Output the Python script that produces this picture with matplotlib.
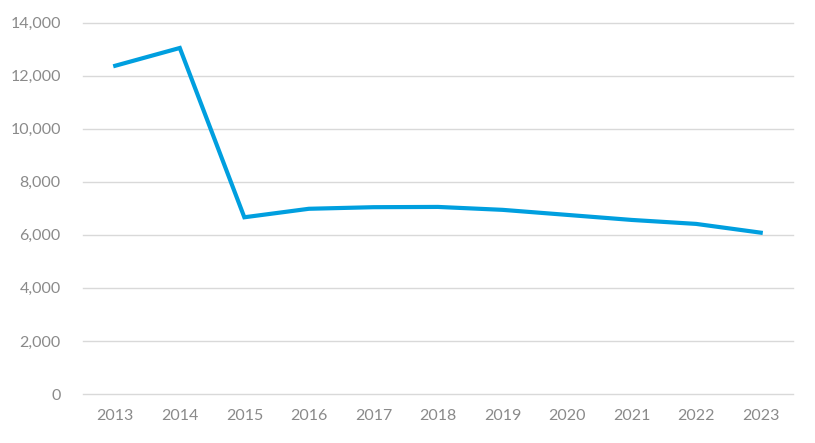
import matplotlib
matplotlib.use("Agg")
import matplotlib.pyplot as plt
from matplotlib.ticker import FuncFormatter

# ── Data ───────────────────────────────────────────────────────────────────────

years  = ["2013", "2014", "2015", "2016", "2017", "2018",
          "2019", "2020", "2021", "2022", "2023"]
values = [12370, 13040, 6660, 6980, 7040, 7050,
          6940, 6750, 6560, 6410, 6080]
y_ticks = [0, 2000, 4000, 6000, 8000, 10000, 12000, 14000]

LINE_COLOR = "#009fdf"
GRID_COLOR = "#d9d9d9"
TEXT_COLOR = "#8a8a8a"

plt.rcParams["font.family"] = ["Lato", "DejaVu Sans"]

fig = plt.figure(figsize=(8.15, 4.43), dpi=100)
ax = fig.add_axes([0.1018, 0.1106, 0.8712, 0.8386])

x = list(range(len(years)))
ax.plot(x, values, color=LINE_COLOR, lw=3.0, solid_joinstyle="miter", zorder=3)

ax.set_xlim(-0.5, len(years) - 0.5)
ax.set_ylim(0, 14000)
ax.set_xticks(x)
ax.set_xticklabels(years)
ax.set_yticks(y_ticks)
ax.yaxis.set_major_formatter(FuncFormatter(lambda v, _: f"{v:,.0f}"))

ax.grid(True, axis="y", color=GRID_COLOR, lw=1.0)
for gl in ax.get_ygridlines():
    gl.set_clip_on(False)
ax.set_axisbelow(True)
for s in ax.spines.values():
    s.set_visible(False)
ax.tick_params(axis="both", length=0, labelsize=11.5, colors=TEXT_COLOR)
ax.tick_params(axis="y", pad=16)
ax.tick_params(axis="x", pad=11)

fig.savefig("out.png", dpi=100)
